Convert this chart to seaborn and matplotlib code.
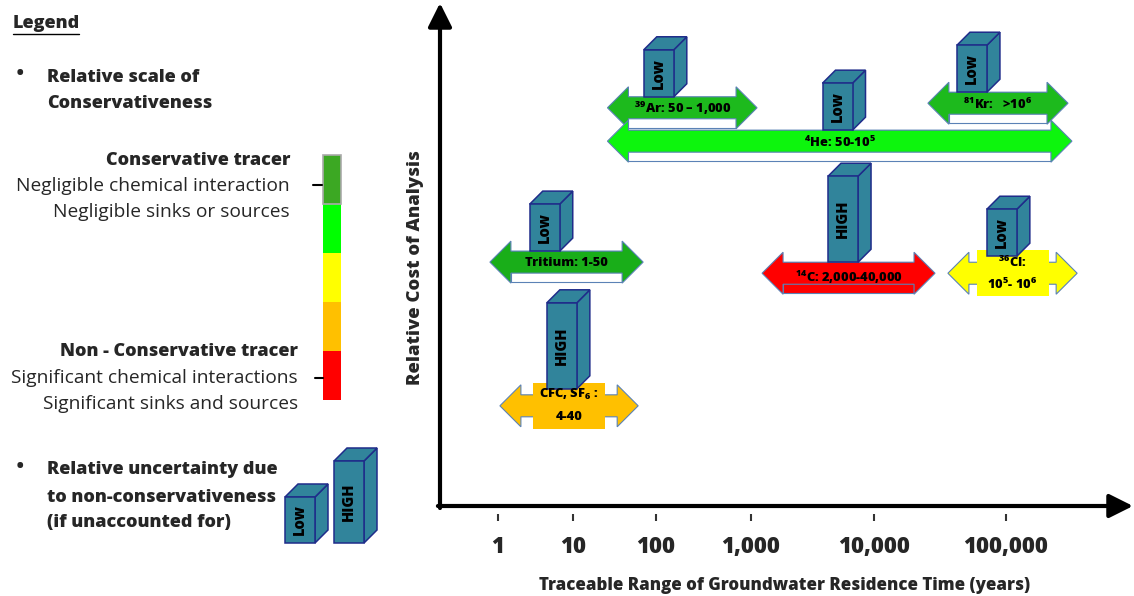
import numpy as np
import matplotlib
matplotlib.use("Agg")
import matplotlib.pyplot as plt
import seaborn as sns
from matplotlib.patches import Polygon, Rectangle
from matplotlib.lines import Line2D
from matplotlib.transforms import IdentityTransform
from matplotlib.colors import ListedColormap
from matplotlib.ticker import NullLocator

# ---------------- data ----------------
tracers = ["Tritium", "CFC, SF6", "39Ar", "4He", "81Kr", "14C", "36Cl"]
range_lo = [0.78, 1.06, 26, 26, 25600, 1230, 36300]          # years (drawn arrow start)
range_hi = [70, 61, 1120, 316000, 295000, 29000, 346000]      # years (drawn arrow end)
cost = [48.2, 19.8, 78.7, 72.1, 79.6, 46.0, 46.0]             # relative cost of analysis
uncertainty = ["Low", "HIGH", "Low", "Low", "Low", "HIGH", "Low"]
box_at = [4.2, 7.1, 107, 5050, 55200, 5600, 93000]            # years, where the uncertainty box sits
label_line1 = ["Tritium: 1-50",
               r"CFC, SF$_{\mathbf{6}}$ :",
               r"$^{\mathbf{39}}$Ar: 50 – 1,000",
               r"$^{\mathbf{4}}$He: 50-10$^{\mathbf{5}}$",
               r"$^{\mathbf{81}}$Kr:   >10$^{\mathbf{6}}$",
               r"$^{\mathbf{14}}$C: 2,000-40,000",
               r"$^{\mathbf{36}}$Cl:"]
label_line2 = ["", "4-40", "", "", "", "", r"10$^{\mathbf{5}}$- 10$^{\mathbf{6}}$"]
tick_values = [1, 10, 100, 1000, 10000, 100000]
tick_labels = ["1", "10", "100", "1,000", "10,000", "100,000"]
scale_colors = ["#3CA823", "#00FF00", "#FFFF00", "#FFC000", "#FF0000"]

# ---------------- styles ----------------
arrow_colors = {"Tritium": "#19AE19", "CFC, SF6": "#FFC000", "39Ar": "#1DBA1D",
                "4He": "#0DF50D", "81Kr": "#1DBA1D", "14C": "#FF0000", "36Cl": "#FFFF00"}
strip_fill = {"14C": "#FF0000"}
OUTLINE = "#5B82B6"
BOX_FC = "#31849B"
BOX_EC = "#1F2C8A"
HL, HH, BH, STRIP = 21, 21, 11, 9
ID = IdentityTransform()
FONT = "Open Sans"
BOLD = "heavy"

sns.set_theme(style="white")
plt.rcParams["font.family"] = [FONT, "DejaVu Sans"]
plt.rcParams["mathtext.fontset"] = "custom"
plt.rcParams["mathtext.rm"] = FONT
plt.rcParams["mathtext.bf"] = FONT + ":heavy"

W, H = 1134, 596
fig = plt.figure(figsize=(W / 100, H / 100), dpi=100)
fig.patch.set_facecolor("white")


def fxy(px, py):
    return px / W, 1 - py / H


# ---------------- custom (uneven) log axis ----------------
decades = np.arange(6.0)
decade_pos = np.array([498.0, 573.0, 656.0, 751.0, 874.0, 1006.0])


def fwd(x):
    lx = np.log10(np.maximum(np.asarray(x, float), 1e-12))
    out = np.interp(lx, decades, decade_pos)
    out = np.where(lx < 0, decade_pos[0] + lx * (decade_pos[1] - decade_pos[0]), out)
    out = np.where(lx > 5, decade_pos[-1] + (lx - 5) * (decade_pos[-1] - decade_pos[-2]), out)
    return out


def inv(p):
    p = np.asarray(p, float)
    lx = np.interp(p, decade_pos, decades)
    lx = np.where(p < decade_pos[0], (p - decade_pos[0]) / (decade_pos[1] - decade_pos[0]), lx)
    lx = np.where(p > decade_pos[-1], 5 + (p - decade_pos[-1]) / (decade_pos[-1] - decade_pos[-2]), lx)
    return 10 ** lx


ax = fig.add_axes([440 / W, (H - 506) / H, 694 / W, 506 / H])
ax.set_xscale("function", functions=(fwd, inv))
ax.set_xlim(float(inv(440.0)), float(inv(1134.0)))
ax.set_ylim(0, 100)
ax.autoscale(False)
ax.set_facecolor("none")
ax.set_xticks(tick_values)
ax.set_xticklabels(tick_labels)
ax.xaxis.set_minor_locator(NullLocator())
ax.set_yticks([])
for s in ax.spines.values():
    s.set_visible(False)
ax.spines["bottom"].set_position(("outward", 6))
ax.tick_params(axis="x", direction="out", length=5, width=1.5, color="#333333",
               pad=10, labelsize=16, bottom=True)
for t in ax.get_xticklabels():
    t.set_fontweight(BOLD)

ax.set_xlabel("Traceable Range of Groundwater Residence Time (years)", fontsize=12.2, fontweight=BOLD)
ax.xaxis.set_label_coords((785 - 440) / 694, (506 - 585) / 506)
ax.xaxis.label.set_verticalalignment("center")
ax.set_ylabel("Relative Cost of Analysis", fontsize=13.3, fontweight=BOLD)
ax.yaxis.set_label_coords((416 - 440) / 694, (506 - 268) / 506)
ax.yaxis.label.set_verticalalignment("center")

# axis arrows
aprops = dict(arrowstyle="-|>,head_length=0.4,head_width=0.2", mutation_scale=36,
              lw=3, color="black", shrinkA=0, shrinkB=0)
ax.annotate("", xy=(0, (506 - 3) / 506), xytext=(0, -0.004), xycoords="axes fraction",
            arrowprops=aprops, annotation_clip=False)
ax.annotate("", xy=((1133 - 440) / 694, 0), xytext=(-0.003, 0), xycoords="axes fraction",
            arrowprops=aprops, annotation_clip=False)


def draw_cube(target, cx, b, h, text, z):
    w, d = 30, 13
    x0, x1 = cx - w / 2, cx + w / 2
    kw = dict(fc=BOX_FC, ec=BOX_EC, lw=1.1, transform=ID, zorder=z, clip_on=False)
    target.add_patch(Polygon([(x1, b), (x1 + d, b + d), (x1 + d, b + h + d), (x1, b + h)], **kw))
    target.add_patch(Polygon([(x0, b + h), (x0 + d, b + h + d), (x1 + d, b + h + d), (x1, b + h)], **kw))
    target.add_patch(Rectangle((x0, b), w, h, **kw))
    target.text(cx, b + h / 2, text, rotation=90, ha="center", va="center", fontsize=10.5,
                fontweight=BOLD, color="black", transform=ID, zorder=z + 1)


# ---------------- tracer arrows ----------------
for i, name in enumerate(tracers):
    p0, cy = ax.transData.transform((range_lo[i], cost[i]))
    p1 = ax.transData.transform((range_hi[i], cost[i]))[0]
    col = arrow_colors[name]
    z = 2 + 3 * i
    two = label_line2[i] != ""
    if not two:
        ax.add_patch(Rectangle((p0 + HL, cy - BH - STRIP), (p1 - HL) - (p0 + HL), 2 * BH + STRIP,
                               fc=strip_fill.get(name, "white"), ec=OUTLINE, lw=0.8,
                               transform=ID, zorder=z, clip_on=False))
    pts = [(p0, cy), (p0 + HL, cy + HH), (p0 + HL, cy + BH), (p1 - HL, cy + BH), (p1 - HL, cy + HH),
           (p1, cy), (p1 - HL, cy - HH), (p1 - HL, cy - BH), (p0 + HL, cy - BH), (p0 + HL, cy - HH)]
    ax.add_patch(Polygon(pts, closed=True, fc=col, ec=OUTLINE, lw=0.8, transform=ID,
                         zorder=z + 1, clip_on=False))
    cx = (p0 + p1) / 2
    tk = dict(ha="center", va="center", fontsize=9.3, fontweight=BOLD, color="black",
              transform=ID, zorder=60)
    if two:
        ax.add_patch(Rectangle((cx - 36, cy - 23), 72, 46, fc=col, ec="none", transform=ID,
                               zorder=z + 2, clip_on=False))
        ax.text(cx, cy + 11, label_line1[i], **tk)
        ax.text(cx, cy - 11, label_line2[i], **tk)
        bottom = cy + 17
    else:
        shift = STRIP / 2 if name in strip_fill else 1
        ax.text(cx, cy - shift, label_line1[i], **tk)
        bottom = cy + BH
    bx = ax.transData.transform((box_at[i], cost[i]))[0]
    draw_cube(ax, bx, bottom, 47 if uncertainty[i] == "Low" else 86, uncertainty[i], 40 + 2 * i)


# ---------------- legend ----------------
def ftext(px, py, s, **kw):
    x, y = fxy(px, py)
    fig.text(x, y, s, va="center", **kw)


LB = 13.0   # bold legend text
LR = 13.8   # regular legend text
ftext(13, 24, "Legend", fontsize=LB, fontweight=BOLD, ha="left")
fig.add_artist(Line2D([13 / W, 79 / W], [1 - 34 / H] * 2, color="black", lw=1.0))
ftext(20, 75, "•", fontsize=20, ha="center")
ftext(47, 78, "Relative scale of", fontsize=LB, fontweight=BOLD, ha="left")
ftext(47, 104, "Conservativeness", fontsize=LB, fontweight=BOLD, ha="left")
ftext(290, 160, "Conservative tracer", fontsize=LB, fontweight=BOLD, ha="right")
ftext(290, 186, "Negligible chemical interaction", fontsize=LR, ha="right")
ftext(290, 212, "Negligible sinks or sources", fontsize=LR, ha="right")
ftext(298, 352, "Non - Conservative tracer", fontsize=LB, fontweight=BOLD, ha="right")
ftext(298, 378, "Significant chemical interactions", fontsize=LR, ha="right")
ftext(298, 404, "Significant sinks and sources", fontsize=LR, ha="right")
ftext(20, 468, "•", fontsize=20, ha="center")
ftext(47, 470, "Relative uncertainty due", fontsize=LB, fontweight=BOLD, ha="left")
ftext(47, 497, "to non-conservativeness", fontsize=LB, fontweight=BOLD, ha="left")
ftext(47, 523, "(if unaccounted for)", fontsize=LB, fontweight=BOLD, ha="left")
fig.add_artist(Line2D([313 / W, 322 / W], [1 - 185 / H] * 2, color="black", lw=1.5))
fig.add_artist(Line2D([315 / W, 323 / W], [1 - 378 / H] * 2, color="black", lw=1.5))

cax = fig.add_axes([323 / W, (H - 400) / H, 18 / W, 245 / H])
sns.heatmap(np.arange(5).reshape(5, 1), cmap=ListedColormap(scale_colors), vmin=-0.5, vmax=4.5,
            cbar=False, xticklabels=False, yticklabels=False, ax=cax)
for s in cax.spines.values():
    s.set_visible(False)
cax.add_patch(Rectangle((0, 0), 1, 1, fill=False, ec="#AAAAAA", lw=1.2, clip_on=False))

lax = fig.add_axes([0, 0, 1, 1], zorder=5)
lax.set_axis_off()
lax.set_facecolor("none")
draw_cube(lax, 300, H - 543, 46, "Low", 10)
draw_cube(lax, 349, H - 543, 82, "HIGH", 10)

fig.savefig("out.png", dpi=100)
